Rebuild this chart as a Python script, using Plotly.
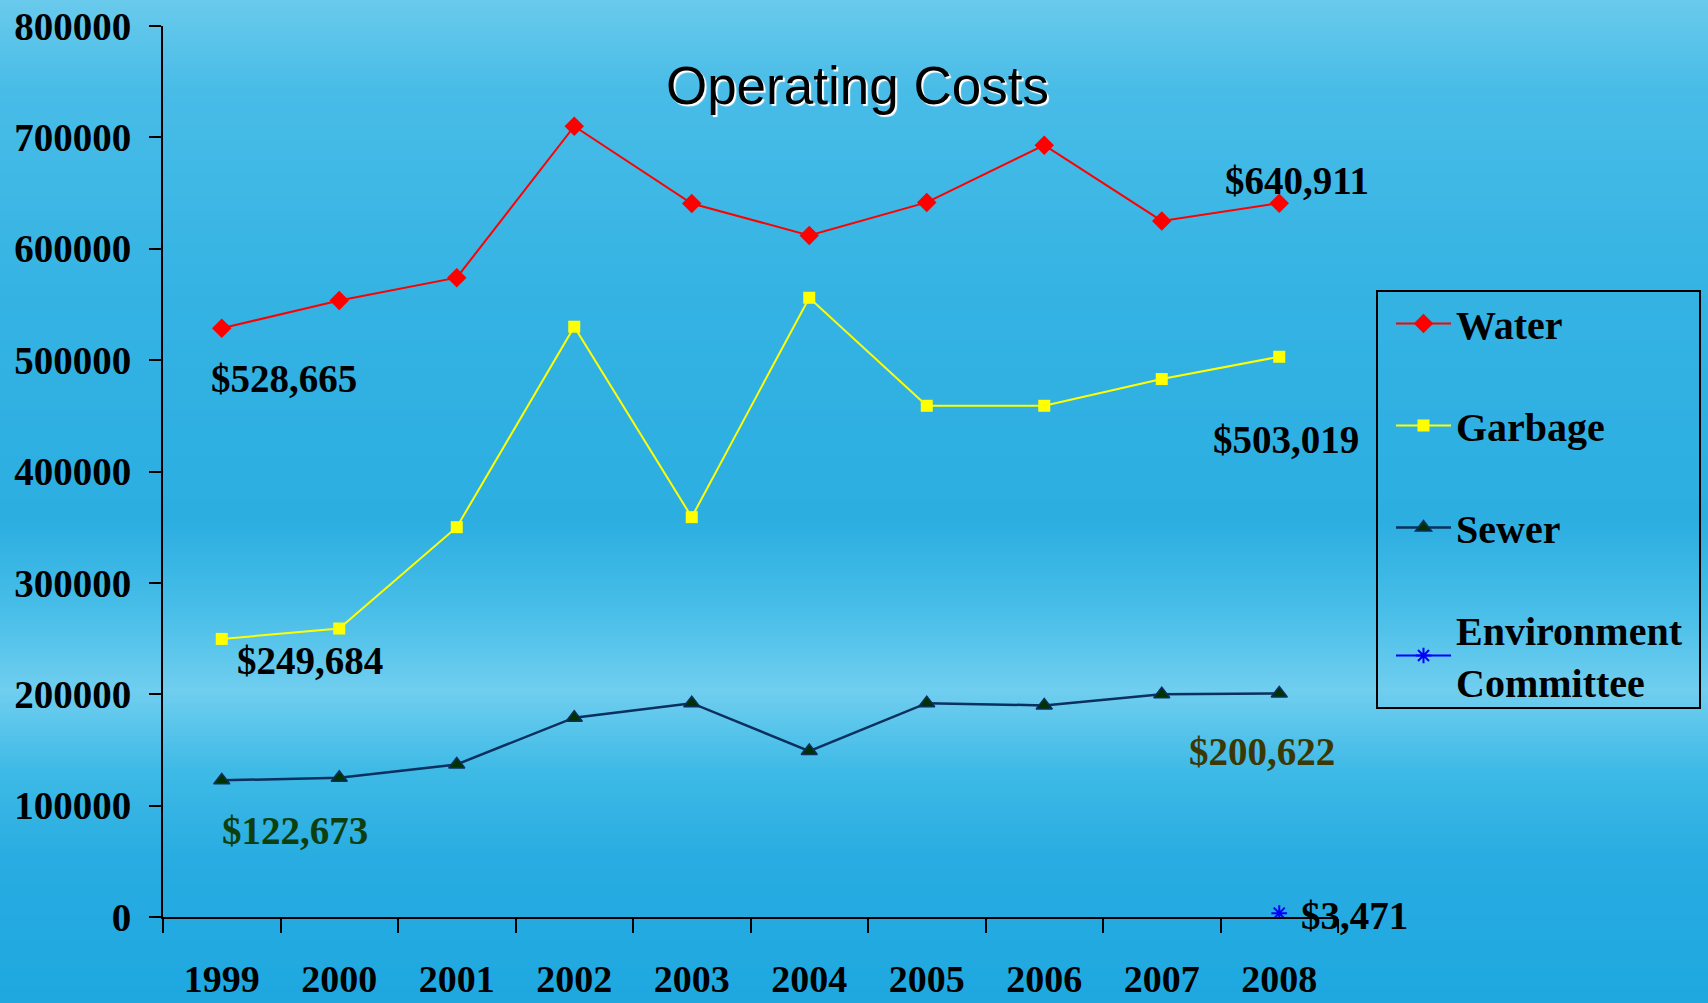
# Operating Costs line chart (water / garbage / sewer / environment committee)
import base64
import struct
import zlib

import plotly.graph_objects as go

# ---- data ----
years = ['1999', '2000', '2001', '2002', '2003', '2004', '2005', '2006', '2007', '2008']
water = [528665, 553500, 574000, 710000, 640600, 612000, 641600, 693000, 625000, 640911]
garbage = [249684, 259000, 350000, 530000, 359000, 556000, 459000, 459000, 483000, 503019]
sewer = [122673, 125000, 137000, 179000, 192000, 149000, 192000, 190000, 200000, 200622]
env_years = ['2008']
env_committee = [3471]

# ---- background: soft vertical "water" gradient as an inline png ----
stops = [(0, (105, 202, 236)), (90, (72, 188, 231)), (300, (52, 179, 227)),
         (520, (44, 174, 225)), (610, (72, 190, 232)), (690, (112, 206, 239)),
         (770, (62, 186, 230)), (860, (40, 172, 225)), (1003, (30, 168, 224))]


def grad_png(height=1003, width=8):
    raw = b''
    for y in range(height):
        for (y0, c0), (y1, c1) in zip(stops, stops[1:]):
            if y0 <= y <= y1:
                t = (y - y0) / (y1 - y0)
                c = tuple(int(round(a + (b - a) * t)) for a, b in zip(c0, c1))
                break
        raw += b'\x00' + bytes(c) * width

    def chunk(tag, data):
        return (struct.pack('>I', len(data)) + tag + data
                + struct.pack('>I', zlib.crc32(tag + data) & 0xffffffff))

    png = (b'\x89PNG\r\n\x1a\n'
           + chunk(b'IHDR', struct.pack('>IIBBBBB', width, height, 8, 2, 0, 0, 0))
           + chunk(b'IDAT', zlib.compress(raw, 9))
           + chunk(b'IEND', b''))
    return 'data:image/png;base64,' + base64.b64encode(png).decode()


serif = 'Liberation Serif, Times New Roman, serif'
lab_font = dict(family=serif, size=39, color='black', weight='bold')

fig = go.Figure()

fig.add_trace(go.Scatter(
    x=years, y=water, name='Water', mode='lines+markers', legendgroup='a',
    line=dict(color='#ff0000', width=2),
    marker=dict(symbol='diamond', size=15, color='#ff0000')))
fig.add_trace(go.Scatter(
    x=years, y=garbage, name='Garbage', mode='lines+markers', legendgroup='b',
    line=dict(color='#ffff00', width=2),
    marker=dict(symbol='square', size=12, color='#ffff00')))
fig.add_trace(go.Scatter(
    x=years, y=sewer, name='Sewer', mode='lines+markers', legendgroup='c',
    line=dict(color='#0b2f5e', width=2.5),
    marker=dict(symbol='triangle-up', size=14, color='#003300',
                line=dict(color='#0b2f5e', width=1.5))))
fig.add_trace(go.Scatter(
    x=env_years, y=env_committee, name='Environment<br>Committee',
    mode='lines+markers', legendgroup='d',
    line=dict(color='#0000ff', width=2),
    marker=dict(symbol='asterisk-open', size=13, color='#0000ff',
                line=dict(color='#0000ff', width=2))))

# data labels (first / last values); x given as category index
first, last = 0, len(years) - 1
env_i = years.index(env_years[0])
labels = [
    (first, water[0], 62, -50, 'black'),
    (last, water[-1], 18, 23, 'black'),
    (first, garbage[0], 88, -22, 'black'),
    (last, garbage[-1], 7, -83, 'black'),
    (first, sewer[0], 73, -50, '#0d3f10'),
    (last, sewer[-1], -17, -58, '#3b3806'),
    (env_i, env_committee[0], 75, -2, 'black'),
]
for x, y, dx, dy, col in labels:
    fig.add_annotation(x=x, y=y, xref='x', yref='y', text=f'${y:,}',
                       showarrow=False, xshift=dx, yshift=dy,
                       font=dict(lab_font, color=col))

fig.add_layout_image(dict(source=grad_png(), xref='paper', yref='paper',
                          x=-163 / 1175, y=1 + 26 / 891,
                          sizex=1708 / 1175, sizey=1003 / 891,
                          sizing='stretch', layer='below',
                          xanchor='left', yanchor='top'))

# legend frame
fig.add_shape(type='rect', xref='paper', yref='paper',
              x0=(1377 - 163) / 1175, x1=(1700 - 163) / 1175,
              y0=(917 - 708) / 891, y1=(917 - 291) / 891,
              line=dict(color='black', width=2), fillcolor='rgba(0,0,0,0)')

fig.update_layout(
    width=1708, height=1003,
    margin=dict(l=163, r=370, t=26, b=86),
    paper_bgcolor='#34b2e2', plot_bgcolor='rgba(0,0,0,0)',
    title=dict(text='Operating Costs', x=0.502, xref='container', xanchor='center',
               y=1 - 85 / 1003, yref='container', yanchor='middle',
               font=dict(family='Liberation Sans, Arial, sans-serif', size=53,
                         color='black', shadow='2px 2px 1px white')),
    showlegend=True,
    legend=dict(x=(1391 - 163) / 1175, y=0.7026, xanchor='left', yanchor='top',
                bgcolor='rgba(0,0,0,0)', borderwidth=0,
                font=dict(family=serif, size=40, color='black', weight='bold'),
                itemwidth=55, tracegroupgap=47),
)

fig.update_xaxes(type='category', range=[-0.5, 9.5], tickson='boundaries',
                 showline=True, linecolor='black', linewidth=2,
                 ticks='outside', ticklen=14, tickwidth=2, tickcolor='black',
                 showgrid=False, zeroline=False, ticklabelstandoff=27,
                 automargin=False,
                 tickfont=dict(family=serif, size=38, color='black', weight='bold'))
fig.update_yaxes(range=[0, 800000], dtick=100000, tickformat='d',
                 showline=True, linecolor='black', linewidth=2,
                 ticks='outside', ticklen=12, tickwidth=2, tickcolor='black',
                 showgrid=False, zeroline=False, ticklabelstandoff=10,
                 automargin=False,
                 tickfont=dict(family=serif, size=39, color='black', weight='bold'))

fig.write_html('out.html', config={'displayModeBar': False},
               post_script="document.body.style.margin='0';")
